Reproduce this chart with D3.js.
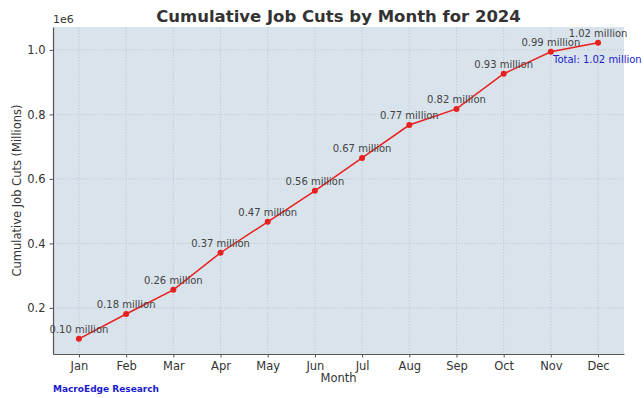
<!DOCTYPE html>
<html>
<head>
<meta charset="utf-8">
<script src="https://cdn.jsdelivr.net/npm/d3@7"></script>
<style>
  body { margin: 0; background: #fff; }
  text { font-family: "DejaVu Sans", sans-serif; }
</style>
</head>
<body>
<svg id="svg" width="644" height="398"></svg>
<script>
// monthly cumulative job cuts, 2024
const months = ["Jan", "Feb", "Mar", "Apr", "May", "Jun", "Jul", "Aug", "Sep", "Oct", "Nov", "Dec"];
const cumulative = [104000, 181000, 256000, 371000, 467000, 563000, 665000, 767000, 817000, 926000, 994000, 1022000];
const yTicks = [200000, 400000, 600000, 800000, 1000000];

let svg = d3.select("#svg");
const margin = { left: 53, right: 20, top: 27, bottom: 44 };
const width = +svg.attr("width") - margin.left - margin.right;
const height = +svg.attr("height") - margin.top - margin.bottom;

let g = svg.append("g").attr("transform", `translate(${margin.left},${margin.top})`);

let x = d3.scalePoint().domain(months).range([0, width]).padding(0.55);
let y = d3.scaleLinear().domain([57000, 1071000]).range([height, 0]);

// plot background
g.append("rect")
  .attr("width", width)
  .attr("height", height)
  .style("fill", "#d9e3ec");

// grid
g.selectAll(".vgrid")
  .data(months)
  .enter()
  .append("line")
  .attr("x1", (d) => x(d))
  .attr("x2", (d) => x(d))
  .attr("y1", 0)
  .attr("y2", height)
  .style("stroke", "#bcc4ce")
  .style("stroke-width", 0.7)
  .style("stroke-dasharray", "1.5,1.5");

g.selectAll(".hgrid")
  .data(yTicks)
  .enter()
  .append("line")
  .attr("x1", 0)
  .attr("x2", width)
  .attr("y1", (d) => y(d))
  .attr("y2", (d) => y(d))
  .style("stroke", "#bcc4ce")
  .style("stroke-width", 0.7)
  .style("stroke-dasharray", "1.5,1.5");

// axes
let xAxis = g.append("g")
  .attr("transform", `translate(0,${height})`)
  .call(d3.axisBottom(x).tickSizeInner(3.5).tickSizeOuter(0).tickPadding(4));
let yAxis = g.append("g")
  .call(d3.axisLeft(y).tickValues(yTicks).tickFormat((d) => (d / 1e6).toFixed(1)).tickSizeInner(3.5).tickSizeOuter(0).tickPadding(4));

[xAxis, yAxis].forEach((a) => {
  a.select(".domain").style("stroke", "#555").style("stroke-width", 1.2);
  a.selectAll(".tick line").style("stroke", "#555");
  a.selectAll(".tick text").style("font-size", "11.5px").style("fill", "#333").style("font-family", "DejaVu Sans");
});

// line + points
let line = d3.line()
  .x((d, i) => x(months[i]))
  .y((d) => y(d));

g.append("path")
  .datum(cumulative)
  .attr("d", line)
  .style("fill", "none")
  .style("stroke", "#e8201e")
  .style("stroke-width", 1.5);

g.selectAll("circle")
  .data(cumulative)
  .enter()
  .append("circle")
  .attr("cx", (d, i) => x(months[i]))
  .attr("cy", (d) => y(d))
  .attr("r", 3)
  .style("fill", "#e8201e");

// value labels
g.selectAll(".lbl")
  .data(cumulative)
  .enter()
  .append("text")
  .attr("x", (d, i) => x(months[i]))
  .attr("y", (d) => y(d) - 6)
  .attr("text-anchor", "middle")
  .style("font-size", "10px")
  .style("fill", "#444")
  .text((d) => (d / 1e6).toFixed(2) + " million");

// total annotation
let last = cumulative[cumulative.length - 1];
g.append("text")
  .attr("x", x(months[months.length - 1]) - 45)
  .attr("y", y(last) + 20)
  .style("font-size", "10px")
  .style("fill", "#2222cc")
  .text("Total: " + (last / 1e6).toFixed(2) + " million");

// titles
svg.append("text")
  .attr("x", margin.left + width / 2)
  .attr("y", 22)
  .attr("text-anchor", "middle")
  .style("font-size", "16.5px")
  .style("font-weight", "bold")
  .style("fill", "#333")
  .text("Cumulative Job Cuts by Month for 2024");

svg.append("text")
  .attr("x", margin.left)
  .attr("y", 23)
  .style("font-size", "11px")
  .style("fill", "#333")
  .text("1e6");

svg.append("text")
  .attr("x", margin.left + width / 2)
  .attr("y", 382)
  .attr("text-anchor", "middle")
  .style("font-size", "11.5px")
  .style("fill", "#333")
  .text("Month");

svg.append("text")
  .attr("transform", `translate(21,${margin.top + height / 2}) rotate(-90)`)
  .attr("text-anchor", "middle")
  .style("font-size", "11.5px")
  .style("fill", "#333")
  .text("Cumulative Job Cuts (Millions)");

svg.append("text")
  .attr("x", margin.left)
  .attr("y", 392)
  .style("font-size", "9px")
  .style("font-weight", "bold")
  .style("fill", "#1a1acc")
  .text("MacroEdge Research");
</script>
</body>
</html>
